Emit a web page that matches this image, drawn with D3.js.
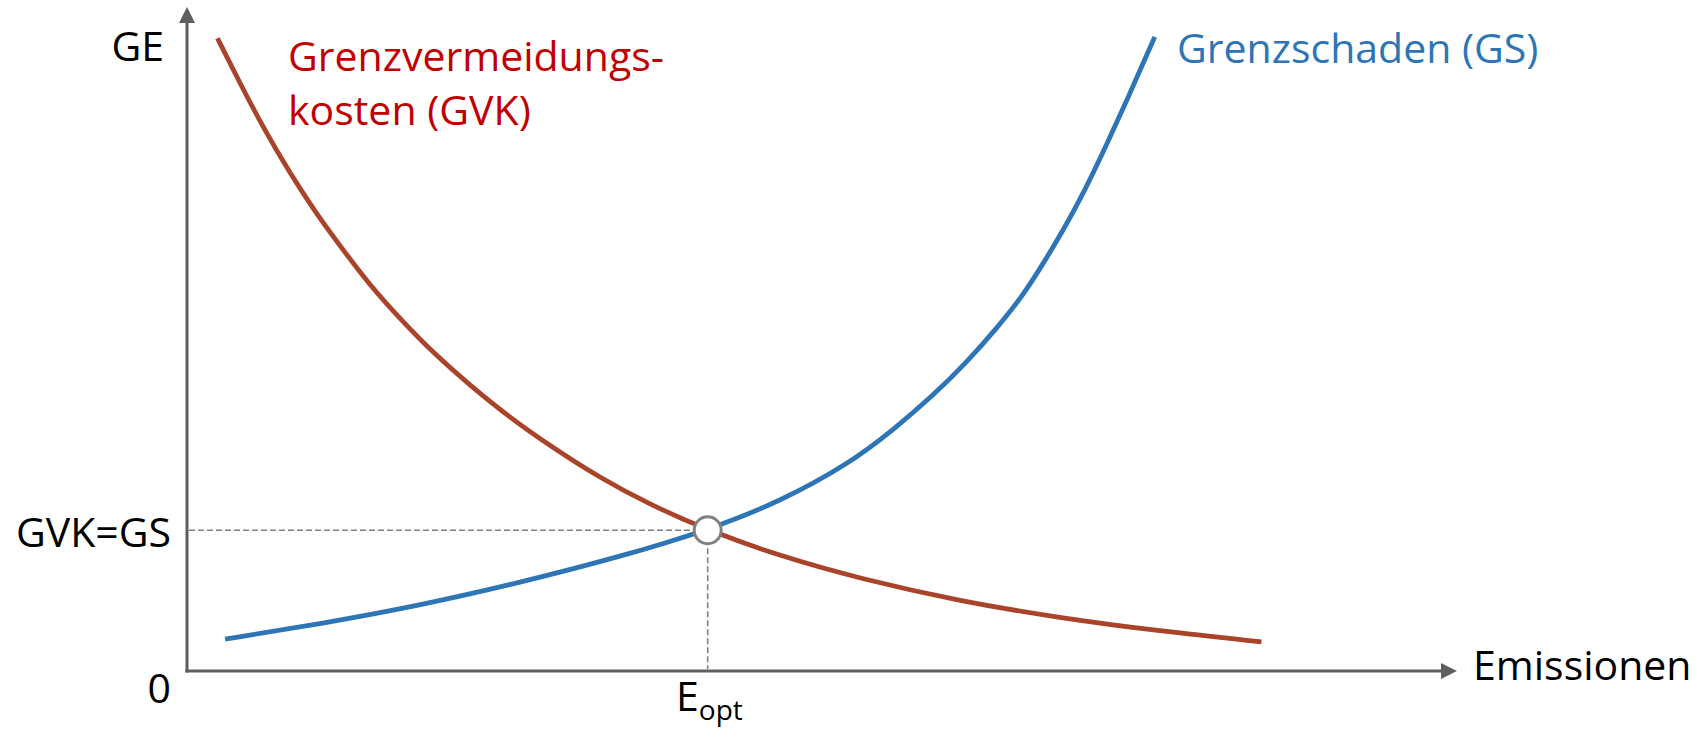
<!DOCTYPE html>
<html>
<head>
<meta charset="utf-8">
<script src="https://cdn.jsdelivr.net/npm/d3@7"></script>
<style>
  body { margin: 0; background: #fff; }
  text { font-family: "Open Sans", sans-serif; }
</style>
</head>
<body>
<script>
// DATA (abstract units: emissions 0..100, GE 0..100)

// Grenzvermeidungskosten (GVK), falling
var gvkX = [2.4, 4.2, 6.1, 8.1, 10.1, 12.1, 14.4, 16.8, 19.5, 22.3, 25.4, 28.6, 32.5, 36.5, 41.0, 46.7, 53.0, 60.9, 68.7, 76.6, 84.6];
var gvkY = [95.3, 88.4, 81.5, 75.0, 69.1, 63.9, 58.1, 53.0, 47.7, 43.0, 38.2, 33.9, 29.1, 25.0, 21.2, 17.3, 13.9, 10.5, 8.0, 6.0, 4.4];

// Grenzschaden (GS), rising
var gsX = [3.0, 10.5, 18.4, 26.2, 34.1, 41.0, 46.7, 52.2, 55.6, 58.7, 61.4, 63.8, 65.8, 67.4, 69.0, 70.6, 72.3, 74.3, 76.2];
var gsY = [4.8, 7.1, 9.9, 13.3, 17.2, 21.2, 25.5, 31.3, 36.3, 41.4, 46.5, 51.7, 56.5, 61.3, 66.4, 72.0, 78.8, 87.2, 95.5];

// optimum (GVK = GS)
var optX = 41.0;
var optY = 21.2;

var labels = {
  yAxis: "GE",
  xAxis: "Emissionen",
  zero: "0",
  opt: "GVK=GS",
  gvk: ["Grenzvermeidungs-", "kosten (GVK)"],
  gs: "Grenzschaden (GS)"
};

var width = 1707,
  height = 729;

var axisColor = "#5f5f5f",
  redLine = "#a9432a",
  blueLine = "#2e75b6",
  redText = "#c00000",
  guideColor = "#808080";

var svg = d3.select("body")
  .append("svg")
  .attr("width", width)
  .attr("height", height);

var x = d3.scaleLinear().domain([0, 100]).range([187, 1457]);
var y = d3.scaleLinear().domain([0, 100]).range([671, 7]);

// axes with arrow heads
var head = 16;
svg.append("line")
  .attr("x1", x(0)).attr("y1", y(0) + 1.5)
  .attr("x2", x(0)).attr("y2", y(100) + head - 1)
  .attr("stroke", axisColor).attr("stroke-width", 3);
svg.append("path")
  .attr("d", "M" + x(0) + "," + y(100) + " l" + (-head / 2) + "," + head + " l" + head + ",0 Z")
  .attr("fill", axisColor);

svg.append("line")
  .attr("x1", x(0) - 1.5).attr("y1", y(0))
  .attr("x2", x(100) - head + 1).attr("y2", y(0))
  .attr("stroke", axisColor).attr("stroke-width", 3);
svg.append("path")
  .attr("d", "M" + x(100) + "," + y(0) + " l" + (-head) + "," + (-head / 2) + " l0," + head + " Z")
  .attr("fill", axisColor);

// guide lines to the optimum
svg.append("line")
  .attr("x1", x(0) + 2).attr("y1", y(optY))
  .attr("x2", x(optX)).attr("y2", y(optY))
  .attr("stroke", guideColor).attr("stroke-width", 1.6)
  .attr("stroke-dasharray", "6,3");
svg.append("line")
  .attr("x1", x(optX)).attr("y1", y(optY))
  .attr("x2", x(optX)).attr("y2", y(0) - 2)
  .attr("stroke", guideColor).attr("stroke-width", 1.6)
  .attr("stroke-dasharray", "6,3");

// curves (basis spline smooths the read-off points)
var line = d3.line()
  .x(function (d) { return x(d[0]); })
  .y(function (d) { return y(d[1]); })
  .curve(d3.curveBasis);

svg.append("path")
  .datum(d3.zip(gvkX, gvkY))
  .attr("d", line)
  .attr("fill", "none")
  .attr("stroke", redLine)
  .attr("stroke-width", 4.8);

svg.append("path")
  .datum(d3.zip(gsX, gsY))
  .attr("d", line)
  .attr("fill", "none")
  .attr("stroke", blueLine)
  .attr("stroke-width", 4.8);

svg.append("circle")
  .attr("cx", x(optX))
  .attr("cy", y(optY))
  .attr("r", 13.5)
  .attr("fill", "#fff")
  .attr("stroke", guideColor)
  .attr("stroke-width", 3);

// texts
var fs = 41;

svg.append("text")
  .attr("x", 164).attr("y", 61)
  .attr("text-anchor", "end")
  .attr("font-size", fs)
  .attr("fill", "#000")
  .text(labels.yAxis);

svg.append("text")
  .attr("x", 171).attr("y", y(optY) + 17)
  .attr("text-anchor", "end")
  .attr("font-size", fs)
  .attr("fill", "#000")
  .text(labels.opt);

svg.append("text")
  .attr("x", 171).attr("y", 703)
  .attr("text-anchor", "end")
  .attr("font-size", fs)
  .attr("fill", "#000")
  .text(labels.zero);

svg.append("text")
  .attr("x", 1473).attr("y", 680)
  .attr("font-size", fs)
  .attr("fill", "#000")
  .text(labels.xAxis);

var eOpt = svg.append("text")
  .attr("x", 676).attr("y", 711)
  .attr("font-size", fs)
  .attr("fill", "#000");
eOpt.append("tspan").text("E");
eOpt.append("tspan")
  .attr("font-size", 28)
  .attr("dy", 9)
  .text("opt");

svg.append("g")
  .selectAll("text")
  .data(labels.gvk)
  .enter().append("text")
  .attr("x", 288)
  .attr("y", function (d, i) { return 71 + i * 54; })
  .attr("font-size", fs)
  .attr("fill", redText)
  .text(function (d) { return d; });

svg.append("text")
  .attr("x", 1177).attr("y", 63)
  .attr("font-size", fs)
  .attr("fill", blueLine)
  .text(labels.gs);
</script>
</body>
</html>
